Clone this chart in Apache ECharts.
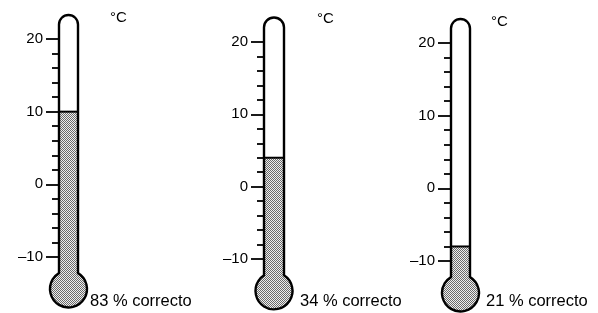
<!DOCTYPE html>
<html><head><meta charset="utf-8">
<script src="https://cdn.jsdelivr.net/npm/echarts@6/dist/echarts.min.js"></script>
<style>html,body{margin:0;padding:0;background:#fff}#c{width:598px;height:313px}</style>
</head><body><div id="c"></div>
<script>
// ---- data ----
const thermometers = ['t1', 't2', 't3'];
const levels = [10, 4, -8];          // temperature reached by the fill (°C)
const percents = [83, 34, 21];       // % correcto
const axisMin = -10, axisMax = 20, majorStep = 10;
const tubeTop = 22;                  // end of straight tube part (°C)
const bulbCenter = -14.4;            // bulb centre (°C)
const unitLabel = '°C';
const suffix = ' % correcto';

// ---- layout / style ----
const grids = [
  {left: 59, top: 39, width: 19, height: 218},
  {left: 264, top: 42, width: 20, height: 217},
  {left: 451, top: 43, width: 19, height: 218}
];
const unitPos = [[110, 18], [317, 19], [491, 22]];
const pctPos = [[90, 302], [300, 302], [486, 302]];
const bulbR = 18.5;
const FONT = 'Liberation Sans, Arial, sans-serif';

// stipple pattern
const pc = document.createElement('canvas');
pc.width = 2; pc.height = 2;
const pctx = pc.getContext('2d');
pctx.fillStyle = '#eeeeee'; pctx.fillRect(0, 0, 2, 2);
pctx.fillStyle = '#6a6a6a'; pctx.fillRect(0, 0, 1, 1); pctx.fillRect(1, 1, 1, 1);
const pattern = {image: pc, repeat: 'repeat'};

function renderItem(params, api) {
  const lv = api.value(1);
  const c = api.coord([api.value(0), lv]);
  const bw = api.size([1, 0])[0];
  const xl = c[0] - bw / 2, xr = c[0] + bw / 2;
  const yLevel = c[1];
  const yTop = api.coord([api.value(0), tubeTop])[1];
  const cy = api.coord([api.value(0), bulbCenter])[1];
  const h = bw / 2, r = bulbR;
  const yj = cy - Math.sqrt(r * r - h * h);
  const outline = `M${xl},${yj} L${xl},${yTop} A${h},${h} 0 0 1 ${xr},${yTop} L${xr},${yj} A${r},${r} 0 1 1 ${xl},${yj} Z`;
  const fillPath = `M${xl},${yLevel} L${xr},${yLevel} L${xr},${yj} A${r},${r} 0 1 1 ${xl},${yj} Z`;
  return {type: 'group', children: [
    {type: 'path', shape: {pathData: outline}, style: {fill: '#fff', stroke: null}},
    {type: 'path', shape: {pathData: fillPath}, style: {fill: pattern, stroke: null}},
    {type: 'line', shape: {x1: xl, y1: yLevel, x2: xr, y2: yLevel}, style: {stroke: '#000', lineWidth: 2}},
    {type: 'path', shape: {pathData: outline}, style: {fill: null, stroke: '#000', lineWidth: 2.4}}
  ]};
}

const option = {
  animation: false,
  backgroundColor: '#fff',
  grid: grids,
  xAxis: thermometers.map((t, i) => ({
    type: 'category', gridIndex: i, data: [t], show: false
  })),
  yAxis: thermometers.map((t, i) => ({
    type: 'value', gridIndex: i, min: axisMin, max: axisMax, interval: majorStep,
    axisLine: {show: false},
    axisTick: {show: true, length: 13, lineStyle: {color: '#000', width: 1.8}},
    minorTick: {show: true, splitNumber: 5, length: 7, lineStyle: {color: '#000', width: 1.8}},
    splitLine: {show: false}, minorSplitLine: {show: false},
    axisLabel: {fontSize: 15, color: '#000', margin: 16, fontFamily: FONT,
      formatter: v => v < 0 ? '\u2013' + Math.abs(v) : String(v)}
  })),
  series: thermometers.map((t, i) => ({
    type: 'custom', xAxisIndex: i, yAxisIndex: i, clip: false,
    renderItem: renderItem,
    data: [[0, levels[i]]]
  })),
  graphic: [
    ...unitPos.map(p => ({type: 'text', left: p[0], top: p[1] - 8,
      style: {text: unitLabel, font: '15px ' + FONT, fill: '#000'}})),
    ...pctPos.map((p, i) => ({type: 'text', left: p[0], top: p[1] - 9,
      style: {text: percents[i] + suffix, font: '16.5px ' + FONT, fill: '#000'}}))
  ]
};
echarts.init(document.getElementById('c')).setOption(option);
</script></body></html>
